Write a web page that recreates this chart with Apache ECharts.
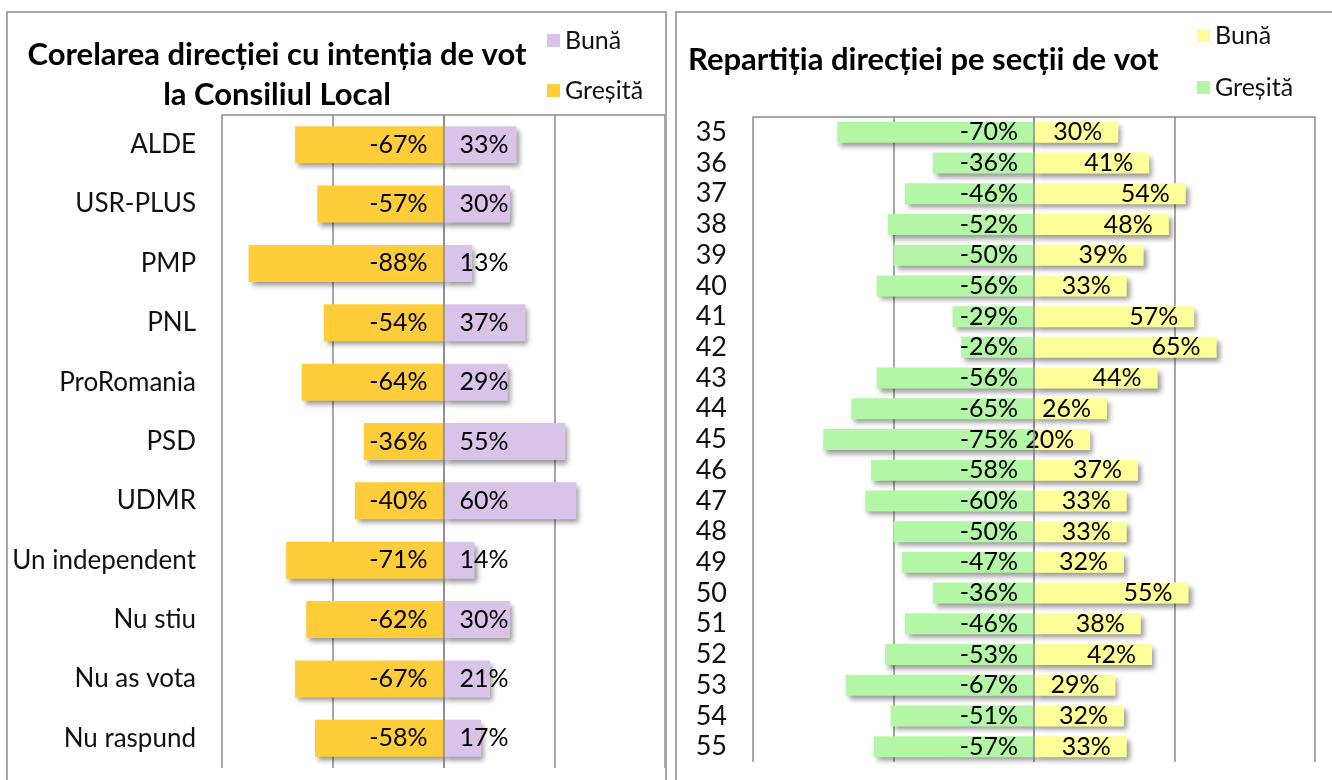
<!DOCTYPE html>
<html>
<head>
<meta charset="utf-8">
<script src="https://cdn.jsdelivr.net/npm/echarts@6/dist/echarts.min.js"></script>
<style>
  body {margin: 0; background: #fff; overflow: hidden;}
  .chart {position: absolute; top: 0; height: 780px;}
  .panel {position: absolute; top: 11px; height: 800px; border: 2px solid #a6a6a6; pointer-events: none;}
</style>
</head>
<body>
<div id="left" class="chart" style="left:0;width:666px"></div>
<div id="right" class="chart" style="left:670px;width:662px"></div>
<div class="panel" style="left:6px;width:657px"></div>
<div class="panel" style="left:675px;width:670px"></div>
<script>
const FONT = 'Lato';

// left chart: intention de vot
const parties = ['ALDE', 'USR-PLUS', 'PMP', 'PNL', 'ProRomania', 'PSD', 'UDMR',
  'Un independent', 'Nu stiu', 'Nu as vota', 'Nu raspund'];
const partyGresita = [-67, -57, -88, -54, -64, -36, -40, -71, -62, -67, -58];
const partyBuna = [33, 30, 13, 37, 29, 55, 60, 14, 30, 21, 17];

// right chart: sectii de vot
const sections = ['35', '36', '37', '38', '39', '40', '41', '42', '43', '44', '45',
  '46', '47', '48', '49', '50', '51', '52', '53', '54', '55'];
const sectionGresita = [-70, -36, -46, -52, -50, -56, -29, -26, -56, -65, -75,
  -58, -60, -50, -47, -36, -46, -53, -67, -51, -57];
const sectionBuna = [30, 41, 54, 48, 39, 33, 57, 65, 44, 26, 20,
  37, 33, 33, 32, 55, 38, 42, 29, 32, 33];

const gridColor = '#8a8a8a';
const shadow = {
  shadowBlur: 5,
  shadowOffsetX: 3,
  shadowOffsetY: 4,
  shadowColor: 'rgba(0,0,0,0.4)'
};

function makeOption(cfg) {
  return {
    animation: false,
    textStyle: {fontFamily: FONT},
    title: cfg.title,
    legend: {
      data: ['Bună', 'Greșită'],
      orient: 'vertical',
      left: cfg.legendLeft,
      top: cfg.legendTop,
      icon: 'rect',
      itemWidth: 13,
      itemHeight: 13,
      itemGap: cfg.legendGap,
      textStyle: {fontFamily: FONT, fontSize: 25, color: '#111', lineHeight: 25}
    },
    grid: cfg.grid,
    xAxis: {
      type: 'value',
      position: 'top',
      min: -100,
      max: 100,
      interval: 50,
      axisLine: {show: true, lineStyle: {color: gridColor, width: 1.5}},
      axisTick: {show: false},
      axisLabel: {show: false},
      splitLine: {show: true, lineStyle: {color: gridColor, width: 1.5}}
    },
    yAxis: {
      type: 'category',
      inverse: true,
      data: cfg.categories,
      axisLine: {show: false, onZero: false},
      axisTick: {show: false},
      axisLabel: {
        interval: 0,
        margin: 26,
        fontFamily: FONT,
        fontSize: cfg.catSize,
        color: '#111'
      }
    },
    series: [
      {
        name: 'Greșită',
        type: 'bar',
        stack: 'total',
        barWidth: cfg.barWidth,
        data: cfg.gresita,
        itemStyle: Object.assign({color: cfg.colors[1]}, shadow),
        label: {
          show: true,
          position: 'insideRight',
          distance: cfg.labelDist,
          fontFamily: FONT,
          fontSize: cfg.valSize,
          color: '#000',
          formatter: p => p.value + '%'
        }
      },
      {
        name: 'Bună',
        type: 'bar',
        stack: 'total',
        barWidth: cfg.barWidth,
        data: cfg.buna,
        itemStyle: Object.assign({color: cfg.colors[0]}, shadow),
        label: {
          show: true,
          position: cfg.bunaPos,
          distance: cfg.labelDist,
          fontFamily: FONT,
          fontSize: cfg.valSize,
          color: '#000',
          formatter: p => p.value + '%'
        },
        markLine: {
          silent: true,
          symbol: 'none',
          label: {show: false},
          lineStyle: {color: gridColor, width: 1.5, type: 'solid'},
          data: [{xAxis: 0}]
        }
      }
    ]
  };
}

const leftChart = echarts.init(document.getElementById('left'));
leftChart.setOption(makeOption({
  title: {
    text: 'Corelarea direcției cu intenția de vot\nla Consiliul Local',
    left: 272,
    top: 30,
    textAlign: 'center',
    textStyle: {fontFamily: FONT, fontSize: 31, fontWeight: 'bold', color: '#000', lineHeight: 40}
  },
  legendLeft: 542,
  legendTop: 23,
  legendGap: 25,
  grid: {left: 222, right: 1, top: 115, bottom: 12, containLabel: false},
  categories: parties,
  gresita: partyGresita,
  buna: partyBuna,
  colors: ['#d9c3e9', '#ffcd3a'],
  barWidth: 37,
  catSize: 26,
  valSize: 25,
  labelDist: 16,
  bunaPos: 'insideLeft'
}));

const rightChart = echarts.init(document.getElementById('right'));
rightChart.setOption(makeOption({
  title: {
    text: 'Repartiția direcției pe secții de vot',
    left: 13,
    top: 40,
    textStyle: {fontFamily: FONT, fontSize: 31, fontWeight: 'bold', color: '#000', lineHeight: 30}
  },
  legendLeft: 522,
  legendTop: 18,
  legendGap: 27,
  grid: {left: 83, right: 662 - 83 - 562, top: 117, bottom: 780 - 117 - 645, containLabel: false},
  categories: sections,
  gresita: sectionGresita,
  buna: sectionBuna,
  colors: ['#ffff99', '#b3f7a6'],
  barWidth: 21,
  catSize: 27,
  valSize: 25,
  labelDist: 16,
  bunaPos: 'insideRight'
}));
</script>
</body>
</html>
